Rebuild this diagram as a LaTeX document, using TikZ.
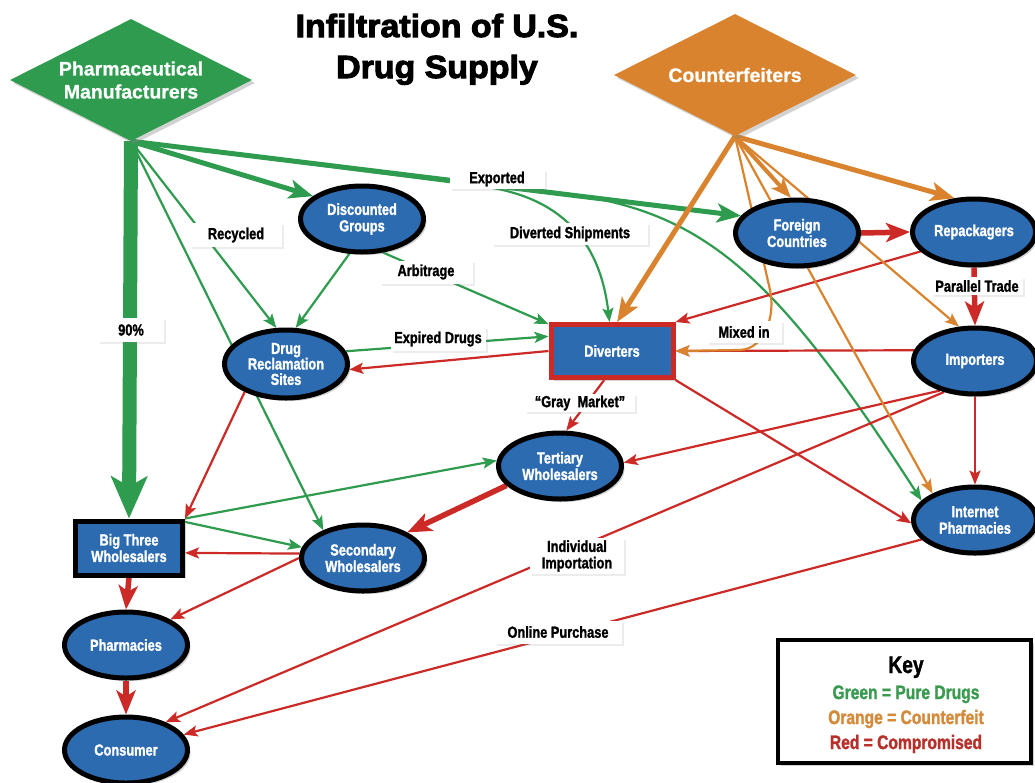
\documentclass[tikz,border=0pt]{standalone}
\usepackage{fontspec}
\setmainfont{Liberation Sans}[FakeBold=0.8]
\newfontfamily\condfont{Liberation Sans}[FakeStretch=0.8,FakeBold=1.4]
\newfontfamily\titlefont{Liberation Sans}[FakeStretch=1.06,FakeBold=3.2]
\usetikzlibrary{arrows.meta,shapes.geometric,shadows,backgrounds}
\definecolor{cgreen}{RGB}{46,155,78}
\definecolor{corange}{RGB}{217,131,46}
\definecolor{cred}{RGB}{204,42,39}
\definecolor{cblue}{RGB}{44,107,176}
\definecolor{kgreen}{RGB}{58,154,80}
\definecolor{korange}{RGB}{212,138,58}
\definecolor{kred}{RGB}{184,48,42}
\tikzset{
  shd/.style={drop shadow={opacity=0.35,shadow xshift=3pt,shadow yshift=-3pt}},
  ell/.style={ellipse, draw=black, line width=5pt, fill=cblue, minimum width=123pt,
    minimum height=66pt, inner sep=0pt, align=center, text=white,
    font=\condfont\bfseries\fontsize{16}{16.5}\selectfont, shd},
  boxnode/.style={rectangle, line width=5pt, fill=cblue, inner sep=0pt, align=center,
    text=white, font=\condfont\bfseries\fontsize{16}{16.5}\selectfont, shd},
  dia/.style={diamond, aspect=2, minimum width=242pt, minimum height=122pt, inner sep=0pt,
    align=center, text=white, font=\bfseries\fontsize{19.5}{23}\selectfont, shd},
  lbl/.style={rectangle, fill=white, inner xsep=3pt, inner ysep=2pt, align=center,
    font=\condfont\bfseries\fontsize{16}{16.5}\selectfont,
    drop shadow={opacity=0.15,shadow xshift=2pt,shadow yshift=-2pt}},
  tipthin/.tip={Stealth[length=14pt,width=11pt,inset=3pt]},
  tipmed/.tip={Stealth[length=24pt,width=19pt,inset=6pt]},
  gthin/.style={draw=cgreen, line width=2.2pt, -tipthin},
  gmed/.style={draw=cgreen, line width=5pt, -tipmed},
  gbig/.style={draw=cgreen, line width=14pt, -{Stealth[length=42pt,width=36pt,inset=10pt]}},
  othin/.style={draw=corange, line width=2.2pt, -tipthin},
  omed/.style={draw=corange, line width=5pt, -tipmed},
  omedb/.style={draw=corange, line width=4pt, -{Stealth[length=20pt,width=16pt,inset=5pt]}},
  rthin/.style={draw=cred, line width=2.2pt, -tipthin},
  rmed/.style={draw=cred, line width=5.5pt, -tipmed},
}
\begin{document}
\begin{tikzpicture}[x=1pt,y=-1pt]
\useasboundingbox (0,0) rectangle (1035,782);
% title
\node[anchor=base, font=\titlefont\bfseries\fontsize{32}{40}\selectfont] (title1) at (437,37) {Infiltration of U.S.};
\node[anchor=base, font=\titlefont\bfseries\fontsize{32}{40}\selectfont] (title2) at (437,78) {Drug Supply};
% diamonds
\node[dia, fill=cgreen] (pm) at (131,80) {Pharmaceutical\\Manufacturers};
\node[dia, fill=corange] (cf) at (735,75) {Counterfeiters};
% nodes
\node[ell] (dg) at (362,219) {Discounted\\Groups};
\node[ell, minimum height=68pt, font=\condfont\bfseries\fontsize{16}{15.5}\selectfont] (drs) at (286,364) {Drug\\Reclamation\\Sites};
\node[boxnode, draw=cred, minimum width=122pt, minimum height=53pt] (dv) at (612,351) {Diverters};
\node[ell] (fc) at (797,233) {Foreign\\Countries};
\node[ell] (rp) at (974,232) {Repackagers};
\node[ell] (imp) at (975,361) {Importers};
\node[ell] (ip) at (975,520) {Internet\\Pharmacies};
\node[ell] (tw) at (560,466) {Tertiary\\Wholesalers};
\node[ell] (sw) at (363,558) {Secondary\\Wholesalers};
\node[boxnode, draw=black, minimum width=107pt, minimum height=54pt] (b3) at (129,548) {Big Three\\Wholesalers};
\node[ell] (ph) at (126,645) {Pharmacies};
\node[ell] (con) at (126,750) {Consumer};
% labels
\node[lbl, minimum width=95pt, minimum height=19pt] (lexp) at (497,179) {Exported};
\node[lbl, minimum width=92pt, minimum height=24pt] (lrec) at (236,235) {Recycled};
\node[lbl, minimum width=156pt, minimum height=22pt] (ldiv) at (570,234) {Diverted Shipments};
\node[lbl, minimum width=93pt, minimum height=23pt] (larb) at (426,272) {Arbitrage};
\node[lbl, minimum width=66pt, minimum height=24pt] (l90) at (131,330) {90\%};
\node[lbl, minimum width=95pt, minimum height=24pt] (lexpd) at (438,339) {Expired Drugs};
\node[lbl, minimum width=75pt, minimum height=22pt] (lmix) at (744,332) {Mixed in};
\node[lbl, minimum width=91pt, minimum height=18pt] (lpar) at (977,286) {Parallel Trade};
\node[lbl, minimum width=110pt, minimum height=18pt] (lgray) at (580,403) {“Gray\ \ Market”};
\node[lbl, minimum width=94pt, minimum height=36pt] (lind) at (577,556) {Individual\\Importation};
\node[lbl, minimum width=127pt, minimum height=23pt] (lonl) at (558,632) {Online Purchase};
% key
\node[rectangle, draw=black, line width=4pt, fill=white, minimum width=253pt, minimum height=123pt, shd] (key) at (904.5,701.5) {};
\node[anchor=base, font=\condfont\bfseries\fontsize{24}{24}\selectfont] (keyt) at (906,673) {Key};
\node[anchor=base, text=kgreen, font=\condfont\bfseries\fontsize{19.5}{20}\selectfont] (keyg) at (906,699) {Green = Pure Drugs};
\node[anchor=base, text=korange, font=\condfont\bfseries\fontsize{19.5}{20}\selectfont] (keyo) at (906,724) {Orange = Counterfeit};
\node[anchor=base, text=kred, font=\condfont\bfseries\fontsize{19.5}{20}\selectfont] (keyr) at (906,749) {Red = Compromised};
\begin{pgfonlayer}{background}
\fill[white] (0,0) rectangle (1035,782);
% green
\draw[gbig] (pm.south) -- (b3.north);
\draw[gmed] (pm.south) -- (dg.155);
\draw[gmed] (pm.south) -- (fc.163);
\draw[gthin] (pm.south) -- (480,186) .. controls (560,196) and (600,240) .. (dv.95);
\draw[gthin] (pm.south) -- (520,189) .. controls (690,201) and (760,250) .. (ip.160);
\draw[gthin] (pm.south) -- (drs.105);
\draw[gthin] (pm.south) -- (sw.145);
\draw[gthin] (dg.250) -- (drs.75);
\draw[gthin] (dg.-58) -- (dv.157);
\draw[gthin] (drs.12) -- (dv.167);
\draw[gthin] (b3.north east) -- (tw.175);
\draw[gthin] (b3.25) -- (sw.170);
% red
\draw[rmed] (fc.east) -- (rp.west);
\draw[rmed] (rp.south) -- (imp.north);
\draw[rthin] (rp.200) -- (dv.north east);
\draw[rthin] (imp.170) -- (dv.east);
\draw[rthin] (imp.220) -- (tw.3);
\draw[rthin] (imp.225) -- (con.35);
\draw[rthin] (imp.south) -- (ip.north);
\draw[rthin] (ip.200) -- (con.15);
\draw[rthin] (dv.west) -- (drs.-5);
\draw[rthin] (dv.-105) -- (tw.80);
\draw[rthin] (dv.south east) -- (ip.183);
\draw[rmed] (tw.200) -- (sw.30);
\draw[rthin] (sw.176) -- (b3.-5);
\draw[rthin] (sw.180) -- (ph.30);
\draw[rthin] (drs.214) -- (b3.north east);
\draw[rmed] (b3.south) -- (ph.north);
\draw[rmed] (ph.south) -- (con.north);
% orange
\draw[omed] (cf.south) -- (dv.80);
\draw[omedb] (cf.south) -- (fc.100);
\draw[omed] (cf.south) -- (rp.120);
\draw[othin] (cf.south) -- (imp.115);
\draw[othin] (cf.south) -- (ip.148);
\draw[othin] (cf.south) -- (770,290) .. controls (775.6,315) and (765,349) .. (740,350) -- (dv.east);
\end{pgfonlayer}
\end{tikzpicture}
\end{document}
